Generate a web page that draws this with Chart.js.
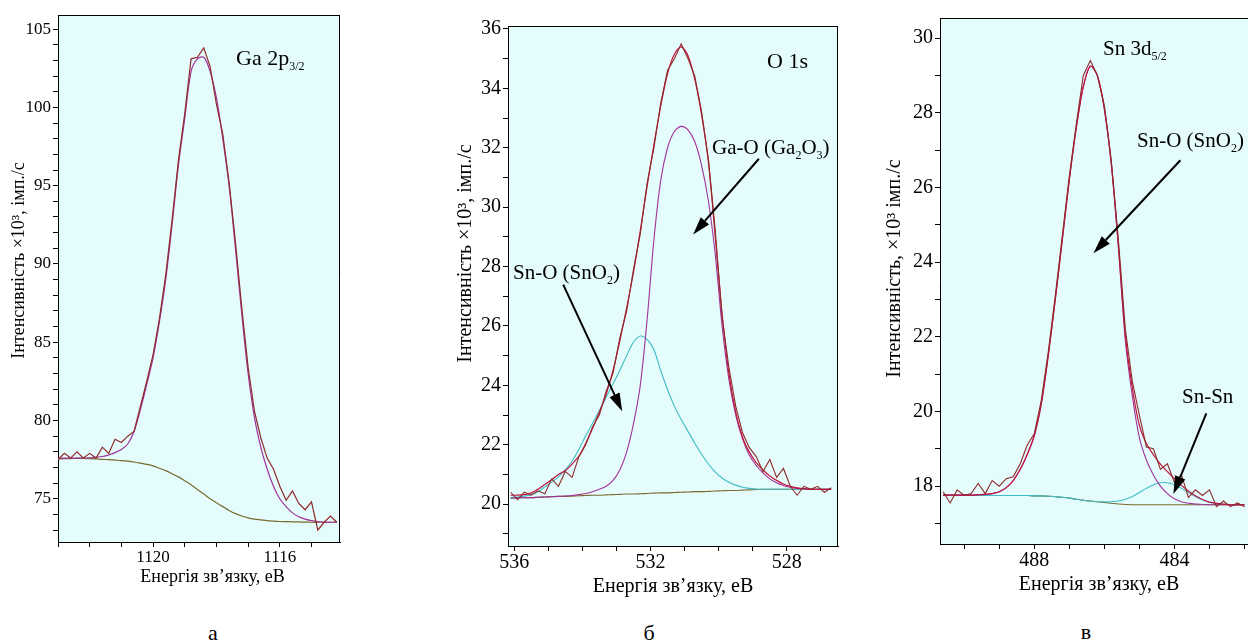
<!DOCTYPE html>
<html lang="uk">
<head>
<meta charset="utf-8">
<title>XPS: Ga 2p3/2, O 1s, Sn 3d5/2</title>
<script src="https://cdn.jsdelivr.net/npm/chart.js@4.4.1/dist/chart.umd.min.js"></script>
<style>
  body { margin: 0; background: #fff; }
  #page { position: relative; width: 1248px; height: 644px; overflow: hidden; font-family: "Liberation Serif", "Times New Roman", Tinos, "DejaVu Serif", "Noto Serif", serif; }
  canvas { position: absolute; top: 0; }
  .lbl { position: absolute; font-size: 21px; line-height: 1; color: #000; white-space: nowrap; }
  .lbl sub { font-size: 12px; vertical-align: -5px; line-height: 0; }
  .letter { position: absolute; font-size: 22px; line-height: 1; color: #000; transform: translateX(-50%); }
</style>
</head>
<body>
<div id="page">
  <canvas id="chartA" width="350" height="600" style="left:0px;width:350px;height:600px"></canvas>
  <canvas id="chartB" width="420" height="600" style="left:430px;width:420px;height:600px"></canvas>
  <canvas id="chartC" width="378" height="600" style="left:870px;width:378px;height:600px"></canvas>

  <div class="lbl" style="left:236px;top:47px;font-size:22px">Ga 2p<sub>3/2</sub></div>
  <div class="lbl" style="left:767px;top:50px;font-size:22px">O 1s</div>
  <div class="lbl" style="left:712px;top:137px">Ga-O (Ga<sub>2</sub>O<sub>3</sub>)</div>
  <div class="lbl" style="left:513px;top:262px">Sn-O (SnO<sub>2</sub>)</div>
  <div class="lbl" style="left:1103px;top:38px">Sn 3d<sub>5/2</sub></div>
  <div class="lbl" style="left:1137px;top:130px">Sn-O (SnO<sub>2</sub>)</div>
  <div class="lbl" style="left:1182px;top:386px">Sn-Sn</div>

  <div class="letter" style="left:213px;top:622px">а</div>
  <div class="letter" style="left:649px;top:622px">б</div>
  <div class="letter" style="left:1086px;top:621px">в</div>
</div>

<script>
// ---------- панель а: Ga 2p3/2 ----------
const energyA = [1123, 1122.8, 1122.6, 1122.4, 1122.2, 1122, 1121.8, 1121.6, 1121.4, 1121.2,
  1121, 1120.8, 1120.6, 1120.4, 1120.2, 1120, 1119.8, 1119.6, 1119.4, 1119.2,
  1119, 1118.8, 1118.6, 1118.4, 1118.2, 1118, 1117.8, 1117.6, 1117.4, 1117.2,
  1117, 1116.8, 1116.6, 1116.4, 1116.2, 1116, 1115.8, 1115.6, 1115.4, 1115.2,
  1115, 1114.8, 1114.6, 1114.4, 1114.2];
const measA = [77.5, 77.9, 77.6, 78.0, 77.6, 77.9, 77.6, 78.3, 77.9, 78.8,
  78.6, 79.0, 79.3, 80.9, 82.5, 84.2, 86.5, 89.3, 92.8, 96.6,
  99.6, 103.1, 103.2, 103.8, 102.6, 100.2, 98.3, 95.2, 91.4, 87.2,
  83.4, 80.6, 78.9, 77.6, 76.9, 75.8, 74.9, 75.5, 74.7, 74.3,
  74.8, 73.0, 73.5, 73.9, 73.5];
const fitA = [77.6, 77.6, 77.6, 77.6, 77.6, 77.62, 77.65, 77.7, 77.8, 77.95,
  78.15, 78.5, 79.3, 80.7, 82.3, 84.0, 86.3, 89.0, 92.5, 96.3,
  99.3, 102.3, 103.1, 103.2, 102.3, 100.6, 98.0, 95.0, 91.0, 86.8,
  83.0, 80.2, 78.3, 76.9, 75.8, 75.0, 74.5, 74.1, 73.85, 73.7,
  73.6, 73.55, 73.5, 73.5, 73.5];
const bgA = [77.55, 77.56, 77.57, 77.58, 77.58, 77.57, 77.55, 77.52, 77.5, 77.47,
  77.44, 77.4, 77.35, 77.28, 77.2, 77.1, 76.95, 76.8, 76.6, 76.4,
  76.15, 75.9, 75.6, 75.3, 75.0, 74.75, 74.5, 74.25, 74.05, 73.9,
  73.78, 73.7, 73.65, 73.6, 73.57, 73.55, 73.54, 73.53, 73.52, 73.51,
  73.5, 73.5, 73.5, 73.5, 73.5];
const xLabelsA = [1120, 1116];
const yLabelsA = [75, 80, 85, 90, 95, 100, 105];

// ---------- панель б: O 1s ----------
const energyB = [536.1, 535.9, 535.7, 535.5, 535.3, 535.1, 534.9, 534.7, 534.5, 534.3,
  534.1, 533.9, 533.7, 533.5, 533.3, 533.1, 532.9, 532.7, 532.5, 532.3,
  532.1, 531.9, 531.7, 531.5, 531.3, 531.1, 530.9, 530.7, 530.5, 530.3,
  530.1, 529.9, 529.7, 529.5, 529.3, 529.1, 528.9, 528.7, 528.5, 528.3,
  528.1, 527.9, 527.7, 527.5, 527.3, 527.1, 526.9, 526.7];
const measB = [20.4, 20.15, 20.4, 20.3, 20.45, 20.35, 20.85, 20.6, 21.1, 20.9,
  21.6, 22.0, 22.6, 23.0, 23.8, 24.4, 25.6, 26.5, 27.9, 29.1,
  30.8, 32.0, 33.5, 34.6, 35.0, 35.5, 35.0, 34.4, 33.2, 31.6,
  29.2, 26.3, 24.6, 23.3, 22.4, 21.9, 21.6, 21.1, 21.5, 20.9,
  21.2, 20.6, 20.3, 20.6, 20.5, 20.6, 20.4, 20.55];
const envB = [20.3, 20.3, 20.32, 20.38, 20.5, 20.66, 20.82, 21.0, 21.13, 21.35,
  21.62, 22.05, 22.55, 23.1, 23.7, 24.5, 25.5, 26.6, 27.8, 29.2,
  30.7, 32.1, 33.4, 34.5, 35.15, 35.4, 35.1, 34.3, 33.1, 31.5,
  29.0, 26.4, 24.4, 23.1, 22.25, 21.75, 21.4, 21.15, 20.95, 20.8,
  20.68, 20.6, 20.55, 20.52, 20.5, 20.5, 20.5, 20.5];
const gaoB = [20.2, 20.21, 20.22, 20.22, 20.23, 20.24, 20.25, 20.26, 20.27, 20.29,
  20.32, 20.36, 20.42, 20.5, 20.6, 20.8, 21.15, 21.75, 22.7, 24.0,
  26.2, 28.9, 30.9, 32.0, 32.55, 32.72, 32.6, 32.2, 31.4, 30.2,
  28.4, 26.0, 24.2, 23.0, 22.2, 21.65, 21.3, 21.05, 20.85, 20.72,
  20.63, 20.57, 20.53, 20.52, 20.5, 20.5, 20.5, 20.5];
const sno2B = [20.22, 20.24, 20.27, 20.32, 20.42, 20.58, 20.74, 20.92, 21.15, 21.45,
  21.85, 22.3, 22.72, 23.15, 23.6, 24.05, 24.5, 25.0, 25.45, 25.66,
  25.55, 25.2, 24.5, 23.85, 23.3, 22.85, 22.45, 22.05, 21.68, 21.35,
  21.08, 20.88, 20.74, 20.64, 20.57, 20.53, 20.51, 20.5, 20.5, 20.5,
  20.5, 20.5, 20.5, 20.5, 20.5, 20.5, 20.5, 20.5];
const bgB = [20.2, 20.21, 20.22, 20.22, 20.23, 20.24, 20.25, 20.26, 20.26, 20.27,
  20.28, 20.29, 20.3, 20.3, 20.31, 20.32, 20.33, 20.34, 20.34, 20.35,
  20.36, 20.37, 20.38, 20.38, 20.39, 20.4, 20.41, 20.42, 20.42, 20.43,
  20.44, 20.45, 20.46, 20.46, 20.47, 20.48, 20.49, 20.5, 20.5, 20.5,
  20.5, 20.5, 20.5, 20.5, 20.5, 20.5, 20.5, 20.5];
const xLabelsB = [536, 532, 528];
const yLabelsB = [20, 22, 24, 26, 28, 30, 32, 34, 36];

// ---------- панель в: Sn 3d5/2 ----------
const energyC = [490.6, 490.4, 490.2, 490.0, 489.8, 489.6, 489.4, 489.2, 489.0, 488.8,
  488.6, 488.4, 488.2, 488.0, 487.8, 487.6, 487.4, 487.2, 487.0, 486.8,
  486.6, 486.4, 486.2, 486.0, 485.8, 485.6, 485.4, 485.2, 485.0, 484.8,
  484.6, 484.4, 484.2, 484.0, 483.8, 483.6, 483.4, 483.2, 483.0, 482.8,
  482.6, 482.4, 482.2, 482.0];
const measC = [17.85, 17.55, 17.9, 17.75, 17.8, 18.07, 17.8, 18.15, 18.0, 18.2,
  18.25, 18.6, 19.1, 19.4, 20.3, 21.6, 23.1, 24.7, 26.3, 27.7,
  29.0, 29.4, 29.0, 28.2, 26.7, 24.6, 22.2, 20.8, 19.9, 19.05,
  19.0, 18.45, 18.6, 18.1, 18.3, 17.7, 17.9, 17.75, 17.9, 17.45,
  17.6, 17.45, 17.55, 17.45];
const envC = [17.76, 17.76, 17.76, 17.76, 17.76, 17.77, 17.78, 17.8, 17.85, 17.96,
  18.15, 18.45, 18.85, 19.35, 20.2, 21.5, 23.0, 24.6, 26.2, 27.6,
  28.7, 29.25, 29.0, 28.12, 26.64, 24.48, 22.04, 20.62, 19.63, 19.14,
  18.84, 18.59, 18.39, 18.2, 18.02, 17.87, 17.74, 17.64, 17.57, 17.54,
  17.52, 17.5, 17.5, 17.5];
const snoC = [17.76, 17.76, 17.76, 17.76, 17.76, 17.77, 17.78, 17.8, 17.85, 17.96,
  18.15, 18.45, 18.85, 19.35, 20.2, 21.5, 23.0, 24.6, 26.2, 27.6,
  28.7, 29.25, 29.0, 28.1, 26.6, 24.4, 21.9, 20.4, 19.3, 18.7,
  18.3, 18.0, 17.8, 17.66, 17.58, 17.54, 17.52, 17.51, 17.5, 17.5,
  17.5, 17.5, 17.5, 17.5];
const snsnC = [17.76, 17.76, 17.76, 17.76, 17.75, 17.75, 17.75, 17.75, 17.75, 17.75,
  17.75, 17.75, 17.75, 17.74, 17.74, 17.73, 17.72, 17.7, 17.68, 17.65,
  17.62, 17.6, 17.58, 17.58, 17.58, 17.6, 17.65, 17.72, 17.83, 17.94,
  18.04, 18.09, 18.09, 18.04, 17.94, 17.83, 17.72, 17.63, 17.57, 17.54,
  17.52, 17.5, 17.5, 17.5];
const bgC = [17.76, 17.76, 17.76, 17.76, 17.75, 17.75, 17.75, 17.75, 17.75, 17.75,
  17.75, 17.75, 17.75, 17.74, 17.74, 17.73, 17.72, 17.7, 17.68, 17.65,
  17.62, 17.6, 17.58, 17.56, 17.54, 17.52, 17.51, 17.5, 17.5, 17.5,
  17.5, 17.5, 17.5, 17.5, 17.5, 17.5, 17.5, 17.5, 17.5, 17.5,
  17.5, 17.5, 17.5, 17.5];
const xLabelsC = [488, 484];
const yLabelsC = [18, 20, 22, 24, 26, 28, 30];

const FONT = "'Liberation Serif', 'Times New Roman', Tinos, 'DejaVu Serif', 'Noto Serif', serif";
const PLOT_BG = 'rgb(228, 252, 252)';
const C_DATA = '#8e2a2a';
const C_ENV = '#c2123f';
const C_COMP = '#a0329a';
const C_CYAN = '#3fbcc4';
const C_BG = '#7b6a2e';
const X_TITLE = 'Енергія зв’язку, еВ';

// нерозривні пробіли на початку підпису — зсув підпису осі, як в оригіналі
function shifted(text, n) {
  return '\u00A0'.repeat(n) + text;
}

function line(xs, ys, color, width, smooth) {
  return {
    data: ys.map((v, i) => ({x: xs[i], y: v})),
    borderColor: color,
    borderWidth: width,
    pointRadius: 0,
    fill: false,
    tension: smooth ? 0.3 : 0
  };
}

// фон області графіка + рамка, стрілки-підписи в координатах даних
function framePlugin(p) {
  return {
    id: 'frame',
    beforeDraw(chart) {
      const a = chart.chartArea, ctx = chart.ctx;
      ctx.save();
      ctx.fillStyle = PLOT_BG;
      ctx.fillRect(a.left, a.top, a.right - a.left, a.bottom - a.top);
      ctx.restore();
    },
    afterDraw(chart) {
      const a = chart.chartArea, ctx = chart.ctx;
      ctx.save();
      ctx.strokeStyle = '#000';
      ctx.lineWidth = 1;
      ctx.beginPath();
      ctx.moveTo(a.left, a.top + 0.5);
      ctx.lineTo(a.right, a.top + 0.5);
      if (p.rightBorder) {
        ctx.moveTo(a.right - 0.5, a.top);
        ctx.lineTo(a.right - 0.5, a.bottom);
      }
      ctx.stroke();
      ctx.restore();
    },
    afterDatasetsDraw(chart) {
      const sx = chart.scales.x, sy = chart.scales.y, ctx = chart.ctx;
      (p.arrows || []).forEach(ar => {
        const x1 = sx.getPixelForValue(ar.from[0]), y1 = sy.getPixelForValue(ar.from[1]);
        const x2 = sx.getPixelForValue(ar.to[0]), y2 = sy.getPixelForValue(ar.to[1]);
        const ang = Math.atan2(y2 - y1, x2 - x1);
        const len = 18, half = 5.5;
        const bx = x2 - len * Math.cos(ang), by = y2 - len * Math.sin(ang);
        ctx.save();
        ctx.strokeStyle = '#000';
        ctx.fillStyle = '#000';
        ctx.lineWidth = 2;
        ctx.beginPath();
        ctx.moveTo(x1, y1);
        ctx.lineTo(bx, by);
        ctx.stroke();
        ctx.beginPath();
        ctx.moveTo(x2, y2);
        ctx.lineTo(bx + half * Math.sin(ang), by - half * Math.cos(ang));
        ctx.lineTo(bx - half * Math.sin(ang), by + half * Math.cos(ang));
        ctx.closePath();
        ctx.fill();
        ctx.restore();
      });
    }
  };
}

function makePanel(id, p) {
  return new Chart(document.getElementById(id), {
    type: 'scatter',
    data: {datasets: p.datasets.map(d => Object.assign(d, {showLine: true}))},
    plugins: [framePlugin(p)],
    options: {
      responsive: false,
      animation: false,
      events: [],
      layout: {padding: {left: 0, top: p.top, right: p.right, bottom: 0}},
      plugins: {legend: {display: false}, tooltip: {enabled: false}},
      scales: {
        x: {
          type: 'linear', reverse: true, min: p.xMin, max: p.xMax,
          afterFit: s => { s.height = p.xAxisH; },
          border: {display: true, color: '#000', width: 1},
          grid: {drawOnChartArea: false, drawTicks: true, tickLength: 5, tickColor: '#000'},
          ticks: {
            stepSize: 1, autoSkip: false, includeBounds: false, maxRotation: 0,
            padding: 0, color: '#000', font: {family: FONT, size: p.tickSize},
            callback: v => p.xLabels.includes(Math.round(v)) ? String(Math.round(v)) : ''
          },
          title: {display: true, text: shifted(X_TITLE, p.xTitleShift), color: '#000',
            font: {family: FONT, size: p.titleSize}, padding: {top: 0, bottom: p.xTitlePad}}
        },
        y: {
          type: 'linear', min: p.yMin, max: p.yMax,
          afterFit: s => { s.width = p.yAxisW; },
          border: {display: true, color: '#000', width: 1},
          grid: {drawOnChartArea: false, drawTicks: true, tickLength: 5, tickColor: '#000'},
          ticks: {
            stepSize: 1, autoSkip: false, includeBounds: false,
            padding: 2, color: '#000', font: {family: FONT, size: p.tickSize},
            callback: v => p.yLabels.includes(Math.round(v)) ? String(Math.round(v)) : ''
          },
          title: {display: true, text: shifted(p.yTitle, p.yTitleShift), color: '#000',
            font: {family: FONT, size: p.titleSize}, padding: {top: p.yTitlePad, bottom: 0}}
        }
      }
    }
  });
}

makePanel('chartA', {
  xMin: 1114.1, xMax: 1123.0, yMin: 72.24, yMax: 105.9,
  xLabels: xLabelsA, yLabels: yLabelsA,
  top: 15, right: 10, xAxisH: 58, yAxisW: 58,
  tickSize: 17, titleSize: 18, xTitlePad: 12, yTitlePad: 8,
  xTitleShift: 6, yTitleShift: 8,
  yTitle: 'Інтенсивність ×10³, імп./с', rightBorder: true,
  datasets: [
    line(energyA, measA, C_DATA, 1.2, false),
    line(energyA, fitA, C_COMP, 1.2, true),
    line(energyA, bgA, C_BG, 1.2, true)
  ]
});

makePanel('chartB', {
  xMin: 526.5, xMax: 536.18, yMin: 18.59, yMax: 36.1,
  xLabels: xLabelsB, yLabels: yLabelsB,
  top: 26, right: 12, xAxisH: 54, yAxisW: 78,
  tickSize: 20, titleSize: 20, xTitlePad: 1, yTitlePad: 24,
  xTitleShift: 0, yTitleShift: 13,
  yTitle: 'Інтенсивність ×10³, імп./с', rightBorder: true,
  arrows: [
    {from: [528.82, 31.63], to: [530.75, 29.08]},
    {from: [534.56, 27.39], to: [532.83, 23.13]}
  ],
  datasets: [
    line(energyB, measB, C_DATA, 1.1, false),
    line(energyB, envB, C_ENV, 1.2, true),
    line(energyB, gaoB, C_COMP, 1.1, true),
    line(energyB, sno2B, C_CYAN, 1.1, true),
    line(energyB, bgB, C_BG, 1.1, true)
  ]
});

makePanel('chartC', {
  xMin: 481.9, xMax: 490.69, yMin: 16.45, yMax: 30.54,
  xLabels: xLabelsC, yLabels: yLabelsC,
  top: 18, right: 0, xAxisH: 56, yAxisW: 70,
  tickSize: 20, titleSize: 20, xTitlePad: 3, yTitlePad: 13,
  xTitleShift: 2, yTitleShift: 5,
  yTitle: 'Інтенсивність, ×10³ імп./с', rightBorder: false,
  arrows: [
    {from: [483.83, 26.73], to: [486.31, 24.24]},
    {from: [483.09, 19.95], to: [484.03, 17.79]}
  ],
  datasets: [
    line(energyC, measC, C_DATA, 1.1, false),
    line(energyC, envC, C_ENV, 1.2, true),
    line(energyC, snoC, C_COMP, 1.1, true),
    line(energyC, snsnC, C_CYAN, 1.1, true),
    line(energyC, bgC, C_BG, 1.1, true)
  ]
});
</script>
</body>
</html>
